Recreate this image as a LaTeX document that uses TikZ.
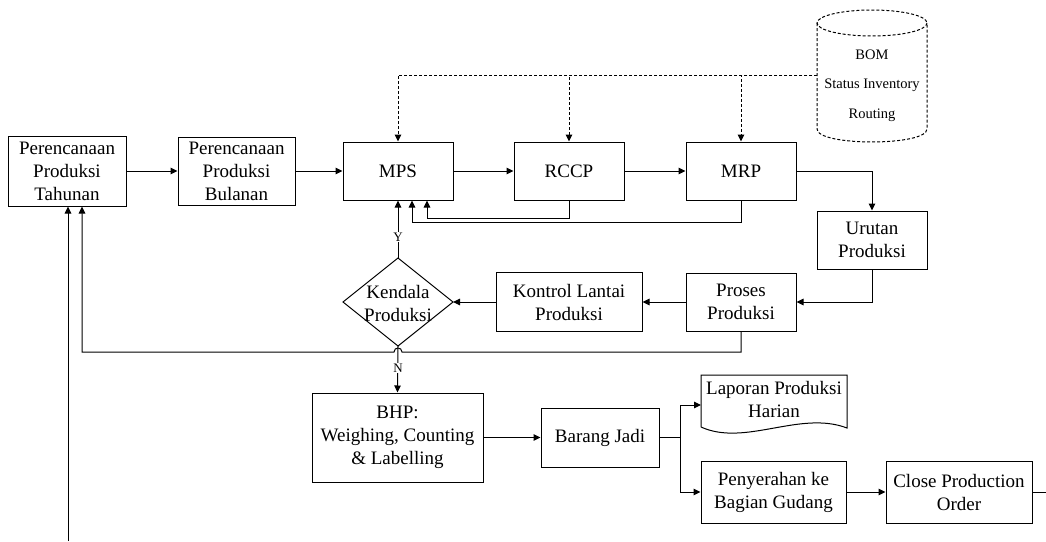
\documentclass[tikz,border=0pt]{standalone}
\usepackage{fontspec}
\setmainfont{Liberation Serif}
\newfontfamily\tnr{Liberation Serif}
\usetikzlibrary{arrows.meta}
\begin{document}
\begin{tikzpicture}[x=1pt,y=-1pt,
  txt/.style={align=center, font=\tnr\fontsize{19}{23}\selectfont, inner sep=1pt},
  box/.style={txt, draw, line width=1pt},
  ln/.style={line width=1pt},
  ar/.style={line width=1pt, -{Triangle[length=7pt,width=6.5pt]}},
  dsh/.style={line width=1pt, dash pattern=on 3pt off 2pt},
  small/.style={font=\tnr\fontsize{14.5}{17}\selectfont},
  yn/.style={font=\tnr\fontsize{13}{15}\selectfont, fill=white, inner sep=1pt}]
\useasboundingbox (0,0) rectangle (1046,541);

% boxes
\node[box, minimum width=118pt, minimum height=70pt] (tah) at (67,171) {Perencanaan\\Produksi\\Tahunan};
\node[box, minimum width=117pt, minimum height=68pt] (bul) at (236.5,171) {Perencanaan\\Produksi\\Bulanan};
\node[box, minimum width=110pt, minimum height=58pt] (mps) at (398,171) {MPS};
\node[box, minimum width=110pt, minimum height=58pt] (rccp) at (569,171) {RCCP};
\node[box, minimum width=110pt, minimum height=58pt] (mrp) at (741,171) {MRP};
\node[box, minimum width=110pt, minimum height=58pt] (uru) at (872,240) {Urutan\\Produksi};
\node[box, minimum width=110pt, minimum height=58pt] (pro) at (741,302) {Proses\\Produksi};
\node[box, minimum width=146pt, minimum height=59pt] (kon) at (569,302) {Kontrol Lantai\\Produksi};
\node[box, minimum width=171pt, minimum height=89pt] (bhp) at (397.5,437.5) {BHP:\\Weighing, Counting\\\& Labelling};
\node[box, minimum width=118pt, minimum height=59pt] (bar) at (600,437.5) {Barang Jadi};
\node[box, minimum width=145pt, minimum height=62pt] (pen) at (773.5,492) {Penyerahan ke\\Bagian Gudang};
\node[box, minimum width=146pt, minimum height=62pt] (clo) at (959,492) {Close Production\\Order};

% decision diamond
\coordinate (dt) at (398,258);
\coordinate (db) at (398,346);
\coordinate (dl) at (343,302);
\coordinate (dr) at (453,302);
\draw[ln] (dt) -- (dr) -- (db) -- (dl) -- cycle;
\node[txt] (dia) at (398,303) {Kendala\\Produksi};

% document shape
\draw[ln] (701,427) -- (701,375) -- (847,375) -- (847,428)
  .. controls (800,410) and (745,447) .. (701,427);
\node[txt] (lap) at (774,399) {Laporan Produksi\\Harian};
\coordinate (lapw) at (701,405);

% database cylinder
\draw[dsh] (872,23) ellipse [x radius=55, y radius=13];
\draw[dsh] (817,23) -- (817,129) .. controls (817,146.3) and (927,146.3) .. (927,129) -- (927,23);
\node[small] (bom) at (872,55) {BOM};
\node[small] (inv) at (872,85) {Status Inventory};
\node[small] (rou) at (872,115) {Routing};
\coordinate (dbw) at (817,75);

% dashed data links
\draw[dsh, -{Triangle[length=7pt,width=6.5pt]}] (dbw) -| (mps.north);
\draw[dsh, -{Triangle[length=7pt,width=6.5pt]}] (dbw) -| (rccp.north);
\draw[dsh, -{Triangle[length=7pt,width=6.5pt]}] (dbw) -| (mrp.north);

% main flow
\draw[ar] (tah.east) -- (bul.west);
\draw[ar] (bul.east) -- (mps.west);
\draw[ar] (mps.east) -- (rccp.west);
\draw[ar] (rccp.east) -- (mrp.west);
\draw[ar] (mrp.east) -| (uru.north);
\draw[ar] (uru.south) |- (pro.east);
\draw[ar] (pro.west) -- (kon.east);
\draw[ar] (kon.west) -- (dr);

% feedback to MPS
\draw[ar] (rccp.south) -- ++(0,18) -| ([xshift=29pt]mps.south);
\draw[ar] (mrp.south) -- ++(0,22) -| ([xshift=14pt]mps.south);
\draw[ar] (dt) -- (mps.south);
\node[yn] (ylab) at (398,237) {Y};

% feedback to Tahunan with hop
\coordinate (hr) at (402,352);
\coordinate (hl) at (394,352);
\draw[ar] (pro.south) |- (hr) .. controls (402,346.7) and (394,346.7) .. (hl) -| ([xshift=15pt]tah.south);

% N branch
\draw[ar] (db) -- (bhp.north);
\node[yn] (nlab) at (398,368) {N};

% bottom-left input
\coordinate (bl) at (68,541);
\draw[ar] (bl) -- ([xshift=1pt]tah.south);

% lower flow
\draw[ar] (bhp.east) -- (bar.west);
\coordinate (br) at (680,437.5);
\draw[ln] (bar.east) -- (br);
\draw[ar] (br) |- (lapw);
\draw[ar] (br) |- (pen.west);
\draw[ar] (pen.east) -- (clo.west);
\coordinate (cr) at (1046,492);
\draw[ln] (clo.east) -- (cr);
\end{tikzpicture}
\end{document}
